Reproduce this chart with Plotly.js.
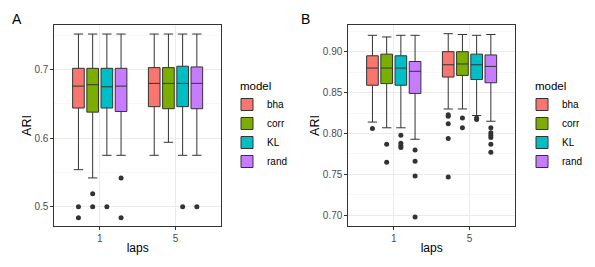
<!DOCTYPE html>
<html>
<head>
<meta charset="utf-8">
<script src="https://cdn.plot.ly/plotly-3.0.1.min.js"></script>
<style>html,body{margin:0;padding:0;background:#fff;}#chart{width:595px;height:267px;}</style>
</head>
<body>
<div id="chart"></div>
<script>
// ---- data ----
const models = ['bha', 'corr', 'KL', 'rand'];
const laps = ['1', '5'];

// Panel A (rows: models, cols: laps 1, 5)
const aUpper  = [[0.752, 0.752], [0.752, 0.752], [0.752, 0.752], [0.752, 0.752]];
const aQ3     = [[0.702, 0.703], [0.702, 0.703], [0.702, 0.705], [0.702, 0.704]];
const aMedian = [[0.676, 0.680], [0.678, 0.680], [0.675, 0.680], [0.676, 0.680]];
const aQ1     = [[0.644, 0.646], [0.638, 0.643], [0.644, 0.646], [0.639, 0.643]];
const aLower  = [[0.554, 0.575], [0.542, 0.594], [0.575, 0.575], [0.575, 0.575]];
const aOutliers = [
  [[0.500, 0.484], []],
  [[0.519, 0.500], []],
  [[0.500], [0.500]],
  [[0.542, 0.484], [0.500]]
];

// Panel B
const bUpper  = [[0.920, 0.922], [0.918, 0.921], [0.920, 0.920], [0.920, 0.921]];
const bQ3     = [[0.895, 0.900], [0.897, 0.900], [0.895, 0.897], [0.888, 0.896]];
const bMedian = [[0.880, 0.884], [0.880, 0.885], [0.880, 0.884], [0.876, 0.882]];
const bQ1     = [[0.859, 0.869], [0.861, 0.871], [0.859, 0.866], [0.849, 0.862]];
const bLower  = [[0.814, 0.830], [0.807, 0.830], [0.807, 0.822], [0.793, 0.815]];
const bOutliers = [
  [[0.806], [0.823, 0.821, 0.812, 0.794, 0.747]],
  [[0.787, 0.765], [0.819, 0.807]],
  [[0.798, 0.788, 0.785, 0.783], [0.819, 0.817]],
  [[0.780, 0.766, 0.748, 0.698], [0.807, 0.801, 0.798, 0.795, 0.787, 0.777]]
];

const legendTitle = 'model';
const panelLabels = ['A', 'B'];

// ---- style ----
const fills = ['#F8766D', '#7CAE00', '#00BFC4', '#C77CFF'];
const ink = '#333333';
const font = 'Liberation Sans, Arial, sans-serif';

function panelTraces(upper, q3, med, q1, lower, outl, xa, ya, leg, group) {
  return models.map((name, m) => ({
    type: 'box',
    name: name,
    x: laps,
    q1: q1[m],
    median: med[m],
    q3: q3[m],
    lowerfence: lower[m],
    upperfence: upper[m],
    y: outl[m],
    boxpoints: 'outliers',
    jitter: 0,
    pointpos: 0,
    fillcolor: fills[m],
    line: {color: ink, width: 1},
    marker: {color: ink, size: 5, line: {width: 0}},
    whiskerwidth: 0.8,
    alignmentgroup: group,
    offsetgroup: name,
    xaxis: xa,
    yaxis: ya,
    legend: leg,
    hoverinfo: 'skip'
  }));
}

const traces = [].concat(
  panelTraces(aUpper, aQ3, aMedian, aQ1, aLower, aOutliers, 'x', 'y', 'legend', 'A'),
  panelTraces(bUpper, bQ3, bMedian, bQ1, bLower, bOutliers, 'x2', 'y2', 'legend2', 'B')
);

const W = 595, H = 267;
const px = v => v / W;
const py = v => 1 - v / H;

function xAxis(dom, anchor) {
  return {
    domain: dom, anchor: anchor, type: 'category', range: [-0.6, 1.6],
    showline: true, mirror: true, linecolor: ink, linewidth: 1,
    ticks: 'outside', ticklen: 3, tickcolor: ink, tickwidth: 1,
    showgrid: true, gridcolor: '#ebebeb', gridwidth: 1, zeroline: false,
    tickfont: {family: font, size: 10, color: '#4d4d4d'},
    title: {text: 'laps', font: {family: font, size: 12, color: '#000'}, standoff: 0},
    automargin: false, fixedrange: true
  };
}
function yAxis(dom, anchor, range, dtick, fmt) {
  return {
    domain: dom, anchor: anchor, range: range, dtick: dtick, tick0: 0, tickformat: fmt,
    showline: true, mirror: true, linecolor: ink, linewidth: 1,
    ticks: 'outside', ticklen: 3, tickcolor: ink, tickwidth: 1,
    showgrid: true, gridcolor: '#ebebeb', gridwidth: 1, zeroline: false,
    minor: {dtick: dtick / 2, tick0: 0, showgrid: true, gridcolor: '#f2f2f2', gridwidth: 0.6, ticks: ''},
    tickfont: {family: font, size: 10, color: '#4d4d4d'},
    title: {text: 'ARI', font: {family: font, size: 12.5, color: '#000'}, standoff: 0},
    automargin: false, fixedrange: true
  };
}
function legendBox(x) {
  return {
    x: x, xanchor: 'left', y: py(90), yanchor: 'top',
    bgcolor: 'rgba(0,0,0,0)', borderwidth: 0,
    font: {family: font, size: 10, color: '#000'},
    tracegroupgap: 0
  };
}
function textNote(text, x, y, size, xanchor) {
  return {text: text, x: px(x), y: py(y), xref: 'paper', yref: 'paper', showarrow: false,
          xanchor: xanchor, yanchor: 'middle', font: {family: font, size: size, color: '#000'}};
}

const yDom = [py(226), py(25)];
const layout = {
  width: W, height: H,
  margin: {l: 0, r: 0, t: 0, b: 0},
  paper_bgcolor: '#fff', plot_bgcolor: '#fff',
  font: {family: font},
  boxmode: 'group', boxgap: 0.25, boxgroupgap: 0.18,
  xaxis: xAxis([px(54.3), px(221)], 'y'),
  yaxis: yAxis(yDom, 'x', [0.4718, 0.7652], 0.1, '.1f'),
  xaxis2: xAxis([px(348.3), px(515)], 'y2'),
  yaxis2: yAxis(yDom, 'x2', [0.687, 0.9326], 0.05, '.2f'),
  legend: legendBox(px(227)),
  legend2: legendBox(px(522)),
  showlegend: true,
  annotations: [
    textNote(panelLabels[0], 17, 19, 14, 'center'),
    textNote(panelLabels[1], 306, 19, 14, 'center'),
    textNote(legendTitle, 238, 86, 11.5, 'left'),
    textNote(legendTitle, 533, 86, 11.5, 'left')
  ]
};

Plotly.newPlot('chart', traces, layout, {displayModeBar: false, staticPlot: true});
</script>
</body>
</html>
